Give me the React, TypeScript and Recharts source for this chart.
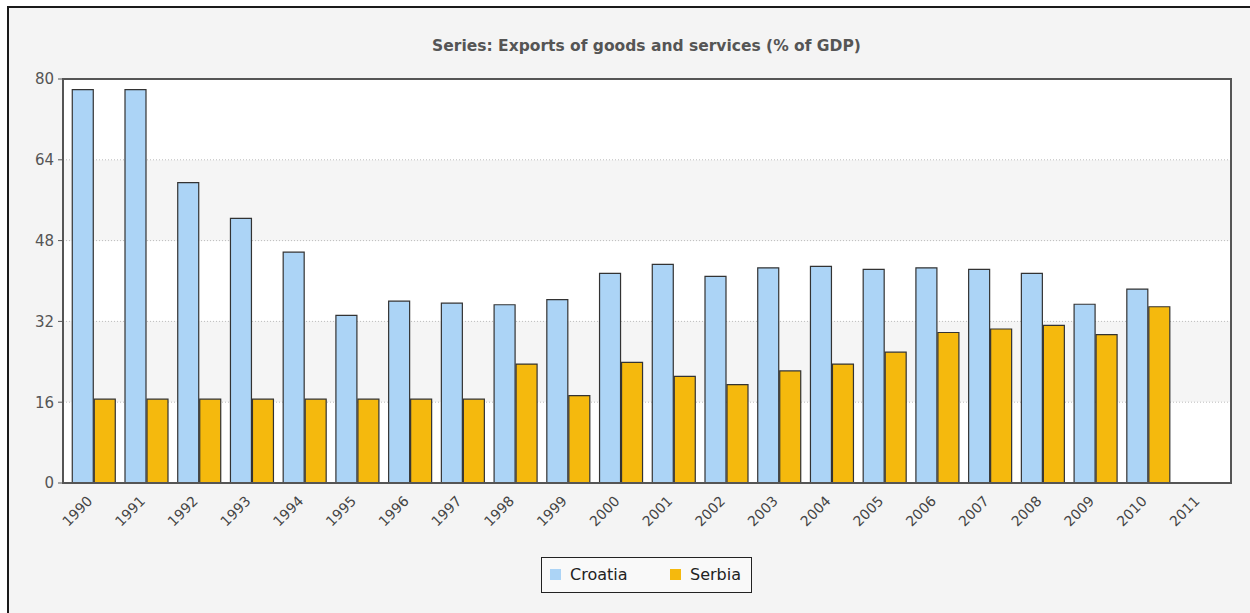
import React from "react";
import { BarChart, Bar, XAxis, YAxis, CartesianGrid } from "recharts";

const years = [
  "1990", "1991", "1992", "1993", "1994", "1995", "1996", "1997", "1998", "1999", "2000",
  "2001", "2002", "2003", "2004", "2005", "2006", "2007", "2008", "2009", "2010", "2011",
];
const croatia = [
  77.9, 77.9, 59.5, 52.4, 45.7, 33.2, 36.0, 35.6, 35.3, 36.3, 41.5,
  43.3, 40.9, 42.6, 42.9, 42.3, 42.6, 42.3, 41.5, 35.4, 38.4, null,
];
const serbia = [
  16.6, 16.6, 16.6, 16.6, 16.6, 16.6, 16.6, 16.6, 23.55, 17.3, 23.9,
  21.1, 19.5, 22.2, 23.55, 25.9, 29.8, 30.5, 31.2, 29.4, 34.9, null,
];
const yTicks = [0, 16, 32, 48, 64, 80];

const CROATIA = "#acd4f6";
const SERBIA = "#f5b90d";
const FONT = "'DejaVu Sans', Verdana, sans-serif";

const data = years.map((y, i) => ({ year: y, Croatia: croatia[i], Serbia: serbia[i] }));

// plot box: the chart margins + axis sizes below put it here
const PLOT = { left: 63, top: 79, right: 1231, bottom: 483 };

const YearTick = (props: any) => {
  const { x, y, payload } = props;
  const px = x;
  const py = y + 19;
  return (
    <text
      x={px}
      y={py}
      transform={`rotate(-45 ${px} ${py})`}
      textAnchor="end"
      fontSize={14}
      fontFamily={FONT}
      fill="#444"
    >
      {payload.value}
    </text>
  );
};

export default function App() {
  return (
    <div style={{ position: "absolute", left: 0, top: 0, width: 1250, height: 613, background: "#fff", overflow: "hidden" }}>
      <div
        style={{
          position: "absolute",
          left: 7,
          top: 6,
          width: 1250,
          height: 613,
          borderTop: "2px solid #1a1a1a",
          borderLeft: "2px solid #1a1a1a",
          background: "#f4f4f4",
        }}
      />
      <div
        style={{
          position: "absolute",
          left: 0,
          width: 1293,
          top: 37,
          textAlign: "center",
          fontFamily: FONT,
          fontWeight: "bold",
          fontSize: 15.5,
          color: "#555",
        }}
      >
        Series: Exports of goods and services (% of GDP)
      </div>
      <div style={{ position: "absolute", left: 0, top: 0 }}>
        <BarChart
          width={1250}
          height={613}
          data={data}
          margin={{ top: 79, right: 19, bottom: 70, left: 0 }}
          barCategoryGap="10%"
          barGap={1}
        >
          <CartesianGrid
            vertical={false}
            stroke="#bdbdbd"
            strokeDasharray="1 2"
            horizontalFill={["#ffffff", "#f5f5f5"]}
            fillOpacity={1}
          />
          <XAxis
            dataKey="year"
            interval={0}
            height={60}
            padding={{ left: 4, right: 4 }}
            tickLine={false}
            tickSize={0}
            tickMargin={0}
            tick={<YearTick />}
            axisLine={{ stroke: "#555", strokeWidth: 2 }}
          />
          <YAxis
            width={63}
            domain={[0, 80]}
            ticks={yTicks}
            interval={0}
            tickSize={5}
            tickMargin={4}
            tickLine={{ stroke: "#555" }}
            axisLine={{ stroke: "#555", strokeWidth: 2 }}
            tick={{ fontSize: 15, fill: "#555", fontFamily: FONT }}
          />
          <Bar dataKey="Croatia" fill={CROATIA} stroke="#333" strokeWidth={1.2} isAnimationActive={false} />
          <Bar dataKey="Serbia" fill={SERBIA} stroke="#333" strokeWidth={1.2} isAnimationActive={false} />
        </BarChart>
      </div>
      {/* frame round the plot */}
      <div
        style={{
          position: "absolute",
          left: PLOT.left - 1,
          top: PLOT.top - 1,
          width: PLOT.right - PLOT.left - 2,
          height: PLOT.bottom - PLOT.top - 2,
          border: "2px solid #555",
          pointerEvents: "none",
        }}
      />
      <div
        style={{
          position: "absolute",
          left: 541,
          top: 557,
          width: 209,
          height: 34,
          border: "1px solid #222",
          background: "#f9f9f9",
          fontFamily: FONT,
          fontSize: 16,
          color: "#222",
        }}
      >
        {[
          { name: "Croatia", color: CROATIA, sx: 8, tx: 28 },
          { name: "Serbia", color: SERBIA, sx: 128, tx: 148 },
        ].map((it) => (
          <React.Fragment key={it.name}>
            <div style={{ position: "absolute", left: it.sx, top: 11, width: 11, height: 11, background: it.color }} />
            <div style={{ position: "absolute", left: it.tx, top: 7, lineHeight: "20px" }}>{it.name}</div>
          </React.Fragment>
        ))}
      </div>
    </div>
  );
}
